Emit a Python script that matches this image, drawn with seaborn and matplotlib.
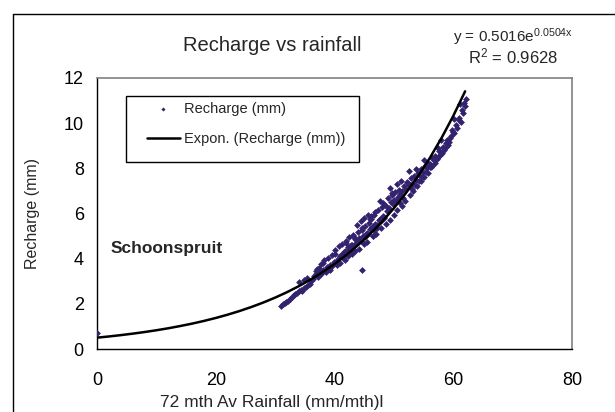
import numpy as np
import pandas as pd
import seaborn as sns
import matplotlib.pyplot as plt
from matplotlib.lines import Line2D
from matplotlib.patches import Rectangle

# scatter points (72 mth av rainfall, recharge)
rain = [0.0,
        31.0, 31.3, 31.6, 31.9, 32.2, 32.5, 32.8, 33.1, 33.4, 33.7, 34.0, 34.3, 34.6, 34.9, 35.2, 35.5, 35.8,
        34.1, 34.8, 35.4, 36.0, 36.3, 36.6, 36.9, 37.2, 37.5, 37.8, 38.1, 38.4, 38.7, 39.0, 39.3, 39.6, 39.9,
        37.0, 37.7, 38.3, 38.9, 39.5, 40.1, 40.3, 40.6, 40.9, 41.2, 41.5, 41.8, 42.1, 42.4, 42.7, 43.0,
        40.0, 40.7, 41.3, 41.9, 42.5, 43.1, 43.3, 43.6, 43.9, 44.2, 44.5, 44.8, 45.1, 45.4, 45.7, 46.0,
        41.6, 42.2, 42.8, 43.4, 44.0, 44.6, 45.2, 45.8, 46.3, 46.6, 46.9, 47.2, 47.5, 47.8, 48.1, 48.4,
        43.8, 44.4, 45.0, 45.6, 46.2, 46.8, 47.4, 48.0, 48.6, 48.9, 49.2, 49.5, 49.8, 50.1, 50.4, 50.7,
        44.6, 45.3, 46.5, 47.1, 47.7, 48.3, 49.0, 49.6, 50.2, 50.8, 51.1, 51.4, 51.7, 52.0, 52.3, 52.6,
        51.0, 51.6, 52.2, 52.8, 53.1, 53.4, 53.7, 54.0, 54.3, 54.6, 54.9, 55.2, 55.5, 55.8, 56.1, 56.4,
        53.0, 53.6, 54.2, 54.8, 55.4, 56.0, 56.7, 57.0, 57.3, 57.6, 57.9, 58.2, 58.5, 58.8, 59.1, 59.4,
        56.5, 57.2, 57.8, 58.4, 59.0, 59.6, 59.8, 60.1, 60.4, 60.7, 61.0, 61.3, 61.6, 61.9, 62.1, 61.5,
        44.7, 46.1, 47.6, 49.3, 50.5, 52.5, 55.0, 58.0, 60.2, 61.2,
        38.6, 39.2, 40.4, 41.0, 41.7, 42.3, 42.9, 43.5, 44.1, 44.9, 45.5, 46.4, 47.0, 47.9, 48.7, 49.4,
        50.0, 50.6, 51.3, 51.9, 52.7, 53.3, 53.9, 54.5, 55.1, 55.7, 56.3, 56.9, 57.5, 58.1, 58.7, 59.3,
        36.8, 37.4, 38.0, 42.0, 43.2, 45.9, 46.7, 48.2, 49.7, 51.2, 53.8, 57.4, 59.9, 60.9, 61.8]
recharge = [0.70,
            1.92, 1.98, 2.05, 2.10, 2.14, 2.22, 2.30, 2.38, 2.45, 2.50, 2.56, 2.62, 2.58, 2.70, 2.76, 2.82, 2.90,
            2.95, 3.05, 3.15, 3.00, 3.10, 3.22, 3.30, 3.18, 3.40, 3.32, 3.50, 3.44, 3.62, 3.55, 3.70, 3.66, 3.85,
            3.55, 3.75, 3.95, 4.05, 4.15, 4.20, 3.85, 4.00, 4.10, 4.22, 4.05, 4.35, 4.25, 4.45, 4.38, 4.60,
            4.40, 4.55, 4.65, 4.80, 4.95, 5.05, 4.55, 4.70, 4.75, 4.90, 4.80, 5.00, 4.95, 5.15, 5.10, 5.30,
            4.30, 4.50, 4.60, 4.85, 5.20, 5.35, 5.45, 5.60, 5.40, 5.25, 5.55, 5.50, 5.70, 5.65, 5.90, 5.80,
            5.50, 5.65, 5.80, 5.95, 5.90, 6.05, 6.15, 6.30, 6.35, 6.10, 6.25, 6.50, 6.40, 6.60, 6.55, 6.75,
            5.25, 5.10, 5.00, 5.35, 5.75, 5.85, 6.70, 6.80, 6.95, 7.05, 6.85, 7.00, 7.20, 7.10, 7.35, 7.25,
            6.45, 6.70, 7.40, 7.55, 7.30, 7.65, 7.50, 7.80, 7.70, 7.95, 7.85, 8.10, 8.00, 8.25, 8.20, 8.45,
            7.10, 7.25, 7.45, 7.60, 7.85, 8.05, 8.35, 8.55, 8.45, 8.75, 8.65, 8.95, 8.85, 9.10, 9.05, 9.35,
            8.10, 8.40, 8.60, 8.80, 9.25, 9.45, 9.70, 9.55, 9.90, 9.80, 10.15, 10.05, 10.45, 10.75, 11.05, 10.60,
            3.50, 5.75, 6.55, 7.15, 7.30, 7.90, 8.35, 9.25, 10.20, 10.85,
            3.40, 3.50, 3.70, 3.80, 3.95, 4.10, 4.20, 4.35, 4.45, 4.65, 4.75, 5.00, 5.10, 5.35, 5.55, 5.70,
            5.95, 6.15, 6.35, 6.55, 6.80, 7.00, 7.20, 7.45, 7.60, 7.80, 8.05, 8.25, 8.50, 8.70, 8.95, 9.15,
            3.45, 3.60, 3.80, 4.70, 4.95, 5.75, 5.95, 6.45, 6.90, 7.45, 7.95, 8.90, 9.60, 10.25, 10.90]

# exponential trend line as drawn on the chart (y = 0.5016e^0.0504x)
trend_rain = [0, 2, 4, 6, 8, 10, 12, 14, 16, 18, 20, 22, 24, 26, 28, 30, 32,
              34, 36, 38, 40, 42, 44, 46, 48, 50, 52, 54, 56, 58, 60, 62]
trend_recharge = [0.502, 0.555, 0.614, 0.679, 0.751, 0.830, 0.918, 1.016, 1.123, 1.242, 1.374,
                  1.520, 1.681, 1.860, 2.057, 2.275, 2.516, 2.783, 3.078, 3.405, 3.766, 4.165,
                  4.607, 5.096, 5.636, 6.234, 6.895, 7.627, 8.435, 9.330, 10.32, 11.41]

x_ticks = [0, 20, 40, 60, 80]
y_ticks = [0, 2, 4, 6, 8, 10, 12]

pts = pd.DataFrame({'rain': rain, 'recharge': recharge})
trend = pd.DataFrame({'rain': trend_rain, 'recharge': trend_recharge})

sns.set_style('white')
plt.rcParams['font.family'] = ['Liberation Sans', 'DejaVu Sans']
plt.rcParams['mathtext.fontset'] = 'custom'
plt.rcParams['mathtext.rm'] = 'Liberation Sans'

fig = plt.figure(figsize=(6.15, 4.12), dpi=100)
ax = fig.add_axes([97/615, 1-349/412, 475/615, 271/412])

sns.scatterplot(data=pts, x='rain', y='recharge', ax=ax, marker='D', s=12,
                color='#33226e', linewidth=0, label='Recharge (mm)', zorder=3)
sns.lineplot(data=trend, x='rain', y='recharge', ax=ax, color='black', linewidth=1.8,
             label='Expon. (Recharge (mm))', zorder=4)

ax.set_xlim(0, 80)
ax.set_ylim(0, 12)
ax.set_xticks(x_ticks)
ax.set_yticks(y_ticks)
ax.tick_params(axis='both', direction='out', length=5.5, width=1, colors='black', labelsize=13)
ax.tick_params(axis='x', pad=11)
ax.tick_params(axis='y', pad=4)
for side in ['left', 'bottom']:
    ax.spines[side].set_color('black')
    ax.spines[side].set_linewidth(1)
for side in ['top', 'right']:
    ax.spines[side].set_color('#808080')
    ax.spines[side].set_linewidth(1.2)

ax.set_xlabel('')
ax.set_ylabel('Recharge (mm)', fontsize=11.5)
ax.yaxis.set_label_coords(-0.12, 0.5)

# legend box (square corners, black edge) with the entries inside it
ax.add_patch(Rectangle(((126-97)/475, (349-162)/271), (359-126)/475, (162-96)/271,
                       transform=ax.transAxes, facecolor='white', edgecolor='black',
                       linewidth=1, zorder=6, clip_on=False))
leg = ax.legend(loc='upper left', bbox_to_anchor=((147-97)/475, (349-102)/271), frameon=False,
                fontsize=10.5, borderpad=0, borderaxespad=0, labelspacing=1.1,
                handlelength=2.26, handletextpad=0.3, markerscale=0.6)
leg.set_zorder(7)

ax.text(2.36, 4.43, 'Schoonspruit', fontsize=12.5, fontweight='bold', va='center')

fig.text(272/615, 1-51/412, 'Recharge vs rainfall', fontsize=14.5, ha='center', va='baseline')
fig.text(272/615, 1-403/412, '72 mth Av Rainfall (mm/mth)l', fontsize=12.5, ha='center', va='center')
fig.text(513/615, 1-42/412, r'y = 0.5016e$\mathregular{^{0.0504x}}$', fontsize=11, ha='center', va='baseline')
fig.text(513/615, 1-63/412, r'R$\mathregular{^2}$ = 0.9628', fontsize=12, ha='center', va='baseline')

# chart area border (cropped at the right and bottom)
fig.add_artist(Line2D([13/615, 13/615], [0, 1-14/412], color='black', linewidth=1))
fig.add_artist(Line2D([13/615, 1], [1-14/412, 1-14/412], color='black', linewidth=1))

fig.savefig('out.png', dpi=100)
